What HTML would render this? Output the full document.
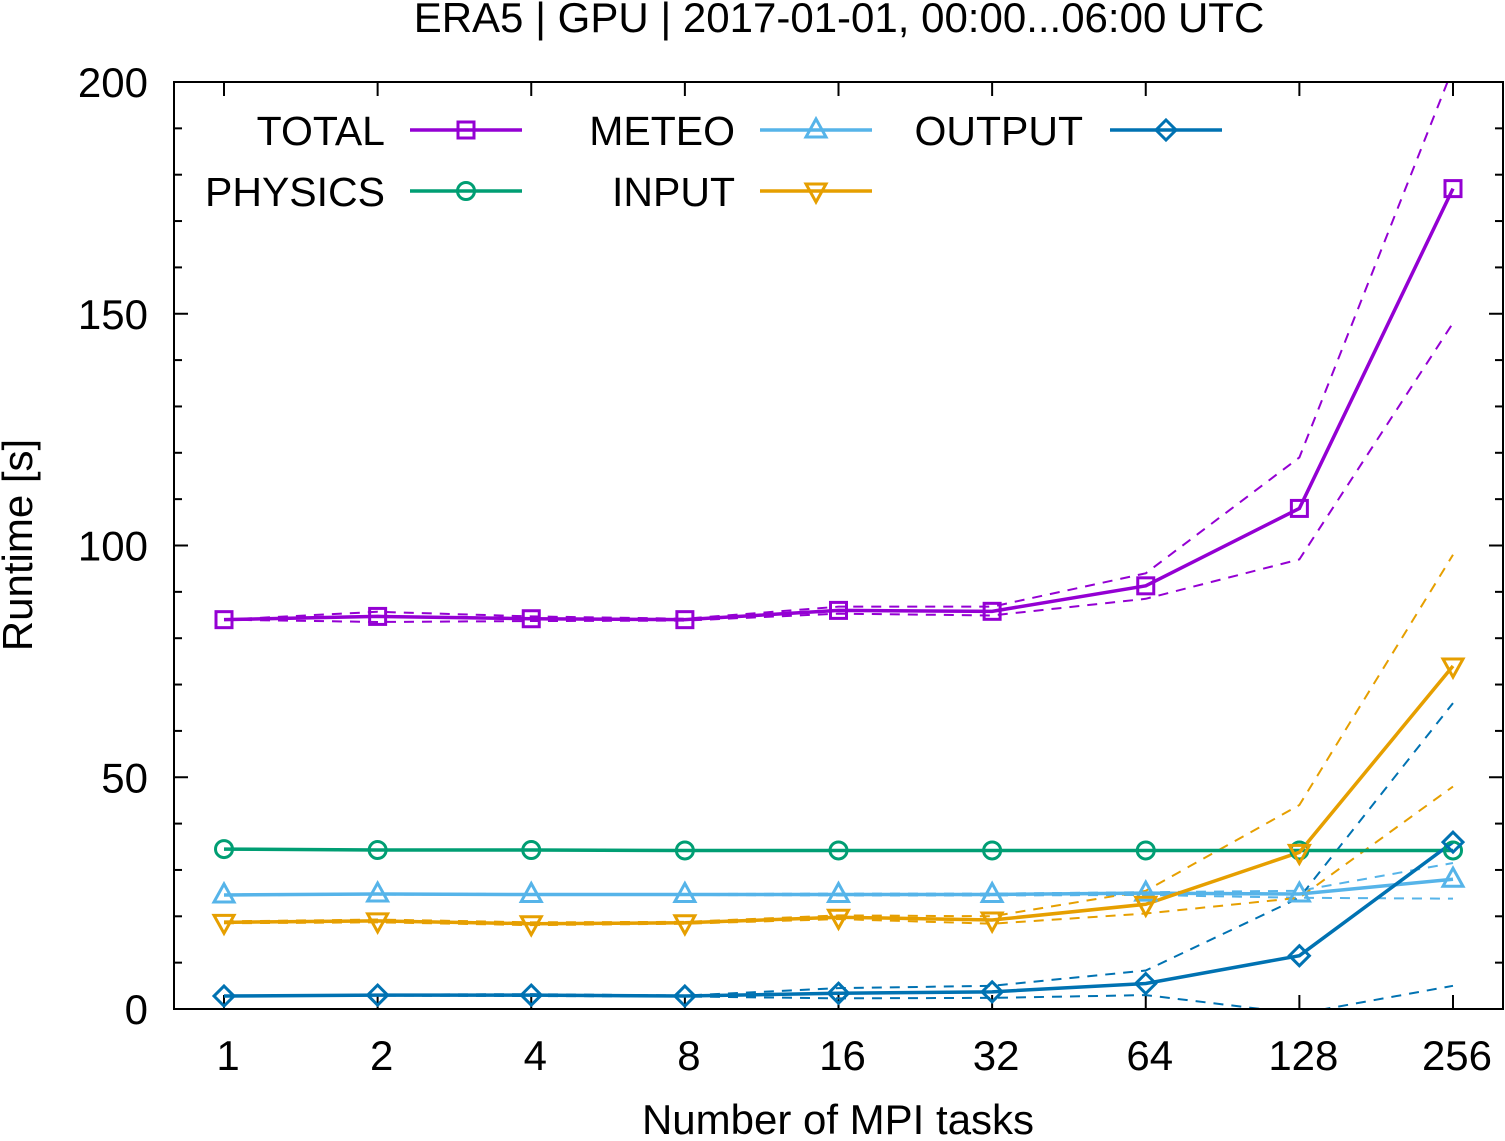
<!DOCTYPE html>
<html><head><meta charset="utf-8"><style>
body{margin:0;background:#fff}
svg text{font-family:"Liberation Sans",sans-serif;fill:#000}
</style></head><body>
<svg id="chart" width="1505" height="1136" viewBox="0 0 1505 1136" xmlns="http://www.w3.org/2000/svg">
<defs><clipPath id="plotclip"><rect x="174" y="82" width="1329" height="927"/></clipPath></defs>
<text x="839" y="32" font-size="42" text-anchor="middle">ERA5 | GPU | 2017-01-01, 00:00...06:00 UTC</text>
<text transform="translate(32,545) rotate(-90)" font-size="42" text-anchor="middle">Runtime [s]</text>
<text x="838" y="1134" font-size="42" text-anchor="middle">Number of MPI tasks</text>
<g id="axes"></g>
<g id="series" clip-path="url(#plotclip)"></g>
<g id="markers"></g>
<g id="legend"></g>
<rect x="174" y="82" width="1329" height="927" fill="none" stroke="#000" stroke-width="2"/>
</svg>
<script>
const categories = ["1","2","4","8","16","32","64","128","256"];
const yTicks = [0,50,100,150,200];
const totalMean = [84.0,84.7,84.2,84.0,86.0,85.8,91.3,108,177];
const totalHi = [84.0,85.7,84.7,84.2,86.8,86.8,94,119,203];
const totalLo = [84.0,83.5,83.7,83.8,85.3,84.9,88.5,97,148];
const physicsMean = [34.5,34.3,34.3,34.2,34.2,34.2,34.2,34.2,34.2];
const physicsHi = [34.5,34.3,34.3,34.2,34.2,34.2,34.2,34.2,34.2];
const physicsLo = [34.5,34.3,34.3,34.2,34.2,34.2,34.2,34.2,34.2];
const meteoMean = [24.6,24.8,24.7,24.7,24.7,24.7,25.0,24.8,28];
const meteoHi = [24.7,24.9,24.8,24.8,24.9,24.9,25.2,25.5,31.5];
const meteoLo = [24.5,24.7,24.6,24.6,24.5,24.5,24.6,24.0,23.8];
const inputMean = [18.7,19.0,18.4,18.6,19.8,19.2,22.6,33.8,74];
const inputHi = [18.9,19.3,18.7,18.8,20.2,20.0,25.5,44,98];
const inputLo = [18.5,18.7,18.1,18.4,19.4,18.4,20.6,24,48];
const outputMean = [2.8,3.0,3.0,2.8,3.4,3.7,5.5,11.5,36];
const outputHi = [2.8,3.1,3.2,2.9,4.5,5.0,8.3,24,66];
const outputLo = [2.8,2.9,2.8,2.7,2.3,2.4,3.0,-1,5];

const NS="http://www.w3.org/2000/svg";
const X0=174,X1=1503,Y0=1009,Y1=82;
function xScale(i){return 224+i*(1453-224)/(categories.length-1);}
function yScale(v){return Y0-(v-0)/(200-0)*(Y0-Y1);}
function mk(tag,attrs,parent){const e=document.createElementNS(NS,tag);for(const k in attrs)e.setAttribute(k,attrs[k]);parent.appendChild(e);return e;}
const axes=document.getElementById('axes'),ser=document.getElementById('series'),mkG=document.getElementById('markers'),leg=document.getElementById('legend');
for(let v=0;v<=200;v+=10){
  const y=yScale(v),L=(v%50===0)?14:8;
  const t1=mk('line',{x1:X0,x2:X0+L,y1:y,y2:y,stroke:'#000','stroke-width':2},axes);
  
  
  const t2=mk('line',{x1:X1-L,x2:X1,y1:y,y2:y,stroke:'#000','stroke-width':2},axes);
  
  
}
yTicks.forEach(v=>{
  const t=mk('text',{x:148,y:yScale(v)+15,'font-size':42,'text-anchor':'end'},axes);t.textContent=v;
  
  
});
categories.forEach((c,i)=>{
  const x=xScale(i);
  const a=mk('line',{x1:x,x2:x,y1:Y0,y2:Y0-14,stroke:'#000','stroke-width':2},axes);
  
  
  const b=mk('line',{x1:x,x2:x,y1:Y1,y2:Y1+14,stroke:'#000','stroke-width':2},axes);
  
  
  const t=mk('text',{x:x+4,y:1070,'font-size':42,'text-anchor':'middle'},axes);t.textContent=c;
  
  
});
function pts(arr){return arr.map((v,i)=>xScale(i)+','+yScale(v)).join(' ');}
function marker(type,x,y,color,parent){
  let e;
  if(type==='square')e=mk('rect',{x:x-8,y:y-8,width:16,height:16},parent);
  else if(type==='circle')e=mk('circle',{cx:x,cy:y,r:8.5},parent);
  else if(type==='up')e=mk('polygon',{points:`${x},${y-11} ${x-10},${y+7} ${x+10},${y+7}`},parent);
  else if(type==='down')e=mk('polygon',{points:`${x},${y+11} ${x-10},${y-7} ${x+10},${y-7}`},parent);
  else e=mk('polygon',{points:`${x},${y-10} ${x+10},${y} ${x},${y+10} ${x-10},${y}`},parent);
  e.setAttribute('fill','none');e.setAttribute('stroke',color);e.setAttribute('stroke-width',3);
  return e;
}
const S=[
 ['total','TOTAL','#9400d3','square',totalMean,totalHi,totalLo,385,466,130],
 ['physics','PHYSICS','#009e73','circle',physicsMean,physicsHi,physicsLo,385,466,191],
 ['meteo','METEO','#56b4e9','up',meteoMean,meteoHi,meteoLo,735,816,130],
 ['input','INPUT','#e69f00','down',inputMean,inputHi,inputLo,735,816,191],
 ['output','OUTPUT','#0072b2','diamond',outputMean,outputHi,outputLo,1083,1166,130]
];
S.forEach(s=>{
  const [id,label,col,m,mean,hi,lo]=s;
  [hi,lo].forEach((arr,k)=>{
    const d=mk('polyline',{points:pts(arr),fill:'none',stroke:col,'stroke-width':2,'stroke-dasharray':'10,8'},ser);
    
    
  });
});
S.forEach(s=>{
  const [id,label,col,m,mean]=s;
  const l=mk('polyline',{points:pts(mean),fill:'none',stroke:col,'stroke-width':3.5},ser);
  
  
  mean.forEach((v,i)=>{
    const e=marker(m,xScale(i),yScale(v),col,mkG);
    
    
  });
});
S.forEach(s=>{
  const [id,label,col,m,mean,hi,lo,tx,mx,ly]=s;
  const t=mk('text',{x:tx,y:ly+15,'font-size':41,'text-anchor':'end'},leg);t.textContent=label;
  
  
  const l=mk('line',{x1:mx-56,x2:mx+56,y1:ly,y2:ly,stroke:col,'stroke-width':3.5},leg);
  
  
  const e=marker(m,mx,ly,col,leg);
  
  
});
</script>
</body></html>
